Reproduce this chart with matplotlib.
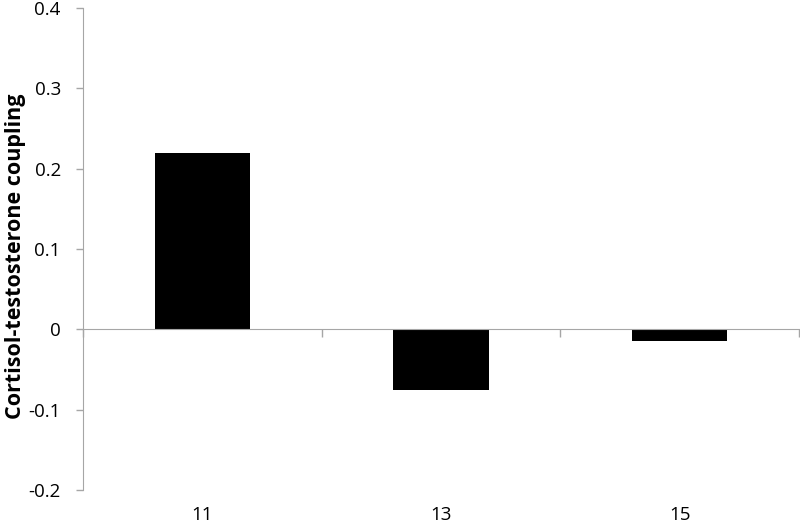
import matplotlib
matplotlib.use("Agg")
import matplotlib.pyplot as plt
import matplotlib.transforms as mtransforms
import numpy as np

categories = ["11", "13", "15"]
values = [0.219, -0.076, -0.015]
yticks = [-0.2, -0.1, 0, 0.1, 0.2, 0.3, 0.4]
ytick_labels = ["-0.2", "-0.1", "0", "0.1", "0.2", "0.3", "0.4"]
ylabel = "Cortisol-testosterone coupling"

plt.rcParams['font.family'] = ['Open Sans', 'DejaVu Sans']

fig = plt.figure(figsize=(8, 5.25), dpi=100)
ax = fig.add_axes([83/800, 1-490/525, (799-83)/800, (490-8)/525])

x = np.arange(len(categories))
ax.bar(x, values, width=0.4, color='black', zorder=2)

ax.set_xlim(-0.5, len(categories) - 0.5)
ax.set_ylim(-0.2, 0.4)
ax.set_yticks(yticks)
ax.set_yticklabels(ytick_labels, fontsize=13.5)

grey = '#a6a6a6'
for s in ['top', 'right']:
    ax.spines[s].set_visible(False)
ax.spines['left'].set_color(grey)
ax.spines['bottom'].set_color(grey)
ax.spines['bottom'].set_position(('data', 0))
ax.spines['bottom'].set_zorder(3)

ax.tick_params(axis='y', colors=grey, labelcolor='black', length=5, width=1, pad=11)
ax.set_xticks(np.arange(-0.5, len(categories)), minor=False)
ax.set_xticklabels([])
ax.tick_params(axis='x', colors=grey, length=6, width=1, direction='out')

trans = mtransforms.blended_transform_factory(ax.transData, ax.transAxes)
offset = mtransforms.ScaledTranslation(0, -16/100, fig.dpi_scale_trans)
for xi, lab in zip(x, categories):
    ax.text(xi, 0, lab, transform=trans + offset, ha='center', va='top', fontsize=13.5)

ax.set_ylabel(ylabel, fontsize=15.5, fontweight='bold')
ax.yaxis.set_label_coords(-0.079, 0.484)

fig.savefig("out.png", dpi=100)
